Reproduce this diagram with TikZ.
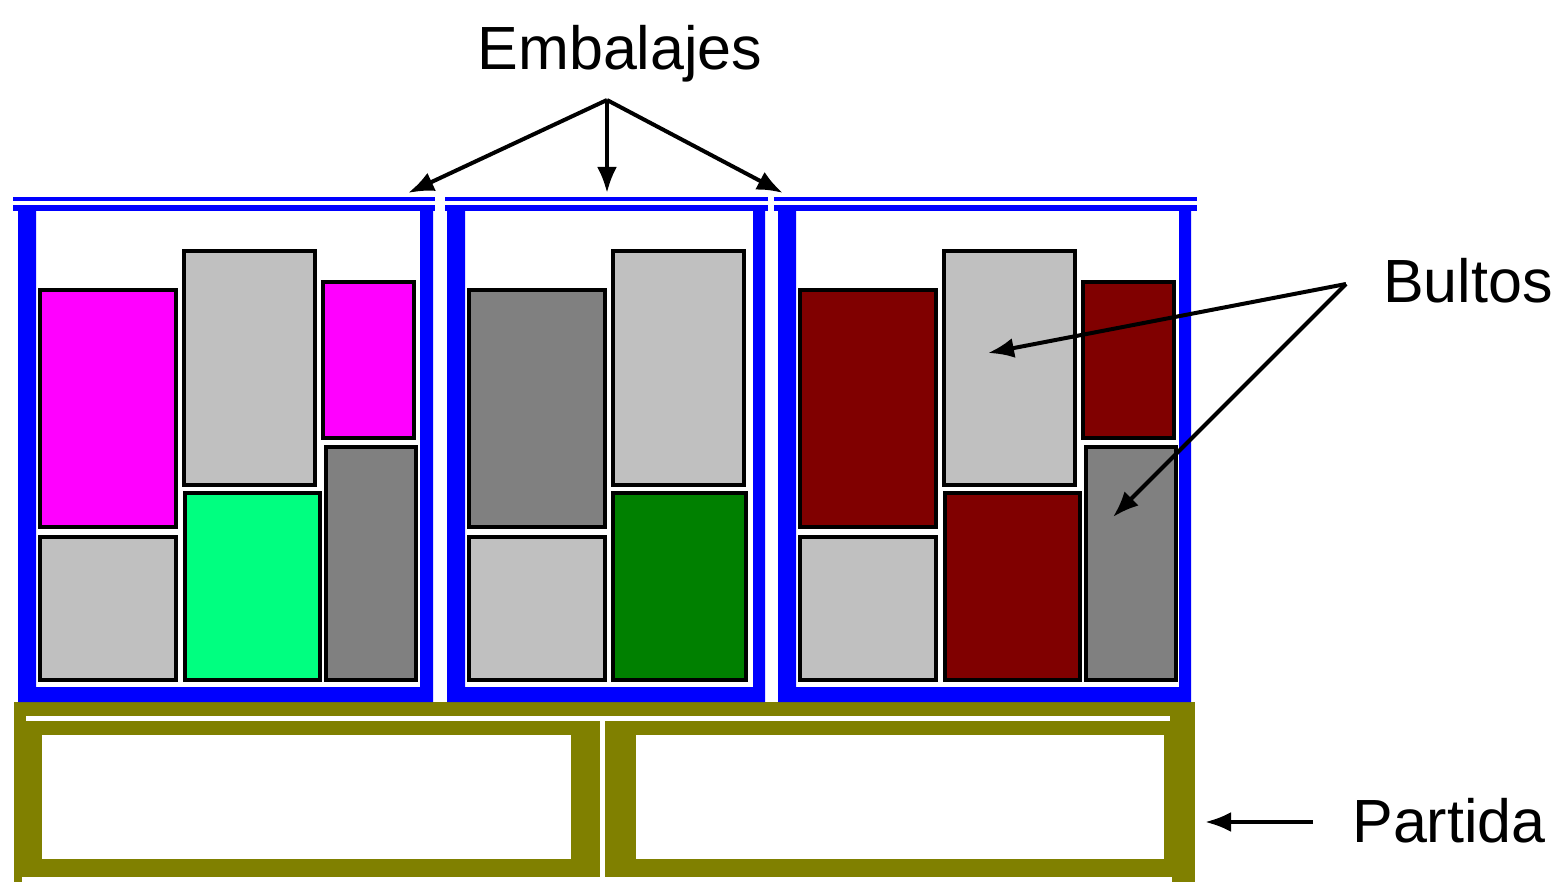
\documentclass[tikz,border=0pt]{standalone}
\usepackage{fontspec}
\setmainfont{Liberation Sans}
\usetikzlibrary{arrows.meta}

\definecolor{embalaje}{HTML}{0000FF}
\definecolor{partida}{HTML}{808000}
\definecolor{rosa}{HTML}{FF00FF}
\definecolor{grisclaro}{HTML}{C0C0C0}
\definecolor{grisoscuro}{HTML}{808080}
\definecolor{verde}{HTML}{00FF80}
\definecolor{verdeoscuro}{HTML}{008000}
\definecolor{granate}{HTML}{800000}

\begin{document}
\begin{tikzpicture}[x=0.5pt, y=-0.5pt, >={Latex[length=13pt,width=10pt]},
    font=\fontsize{30.5}{36}\selectfont,
    bulto/.style={draw=black, line width=2.2pt},
    flecha/.style={->, line width=2pt}]
  \useasboundingbox (0,0) rectangle (1560,882);

  % partida
  \fill[partida] (14,702) rectangle (1195,882);
  \fill[white] (26,716) rectangle (1170,721);
  \fill[white] (600,721) rectangle (605,877);
  \fill[white] (22,877) rectangle (1172,882);
  \fill[white] (42,735) rectangle (571,859);
  \fill[white] (636,735) rectangle (1164,859);

  % embalajes
  \foreach \xa/\xb/\ia/\ib/\la/\lb in {18/433/36/420/13/435,
      447/765/465/753/445/768, 778/1191/796/1179/774/1197}{
    \fill[embalaje] (\la,197) rectangle (\lb,201);
    \fill[embalaje] (\la,205) rectangle (\lb,211);
    \fill[embalaje, even odd rule] (\xa,211) rectangle (\xb,702)
      (\ia,211) rectangle (\ib,687);
  }

  % bultos, embalaje 1
  \draw[bulto, fill=rosa] (40,290) rectangle (176,527);
  \draw[bulto, fill=grisclaro] (184,251) rectangle (315,485);
  \draw[bulto, fill=rosa] (323,282) rectangle (414,438);
  \draw[bulto, fill=grisclaro] (40,537) rectangle (176,680);
  \draw[bulto, fill=verde] (185,493) rectangle (320,680);
  \draw[bulto, fill=grisoscuro] (326,447) rectangle (416,680);
  % embalaje 2
  \begin{scope}[shift={(429,0)}]
    \draw[bulto, fill=grisoscuro] (40,290) rectangle (176,527);
    \draw[bulto, fill=grisclaro] (184,251) rectangle (315,485);
    \draw[bulto, fill=grisclaro] (40,537) rectangle (176,680);
    \draw[bulto, fill=verdeoscuro] (184,493) rectangle (317,680);
  \end{scope}
  % embalaje 3
  \begin{scope}[shift={(760,0)}]
    \draw[bulto, fill=granate] (40,290) rectangle (176,527);
    \draw[bulto, fill=grisclaro] (184,251) rectangle (315,485);
    \draw[bulto, fill=granate] (323,282) rectangle (414,438);
    \draw[bulto, fill=grisclaro] (40,537) rectangle (176,680);
    \draw[bulto, fill=granate] (185,493) rectangle (320,680);
    \draw[bulto, fill=grisoscuro] (326,447) rectangle (416,680);
  \end{scope}

  % etiquetas
  \node[anchor=base] (embalajes) at (620,70) {Embalajes};
  \node[anchor=base] (bultos) at (1468,303) {Bultos};
  \node[anchor=base] (partida) at (1449,842) {Partida};

  \coordinate (e0) at (607,100);
  \coordinate (e1) at (408,193);
  \coordinate (e2) at (607,193);
  \coordinate (e3) at (783,193);
  \foreach \p in {e1,e2,e3}
    \draw[flecha] (e0) -- (\p);

  \coordinate (b0) at (1346,284);
  \coordinate (b1) at (988,353);
  \coordinate (b2) at (1113,517);
  \foreach \p in {b1,b2}
    \draw[flecha] (b0) -- (\p);

  \coordinate (p0) at (1313,822);
  \coordinate (p1) at (1205,822);
  \draw[flecha] (p0) -- (p1);
\end{tikzpicture}
\end{document}
